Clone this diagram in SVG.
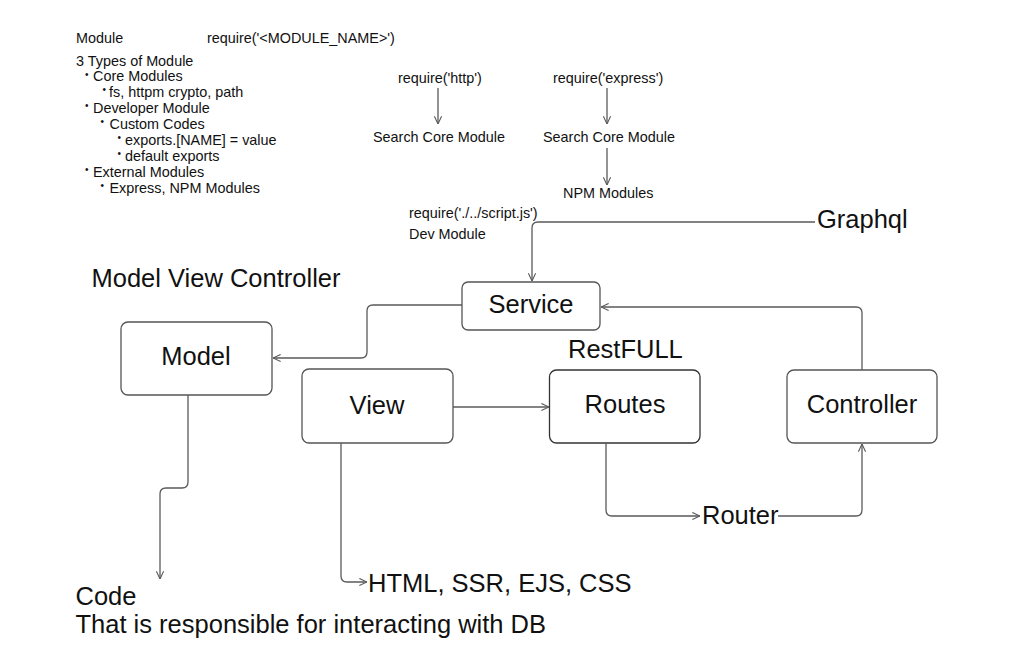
<svg xmlns="http://www.w3.org/2000/svg" width="1021" height="666" viewBox="0 0 1021 666">
<style>
  text { font-family: "Liberation Sans", Arial, Helvetica, sans-serif; fill: #111; }
  .s { font-size: 14.4px; }
  .b { font-size: 10px; }
  .l { font-size: 25.5px; }
  .c { text-anchor: middle; }
  .box { fill: #fff; stroke: #555; stroke-width: 1.3; }
  .edge { fill: none; stroke: #5a5a5a; stroke-width: 1.3; marker-end: url(#arr); }
</style>
<defs>
  <marker id="arr" viewBox="0 0 10 10" refX="9.5" refY="5" markerWidth="9" markerHeight="9" markerUnits="userSpaceOnUse" orient="auto">
    <path d="M1,1 L9.5,5 L1,9" fill="none" stroke="#5a5a5a" stroke-width="1.2"/>
  </marker>
</defs>
<rect width="1021" height="666" fill="#fff"/>

<g id="notes">
  <text class="s" x="76" y="42.7">Module</text>
  <text class="s" x="207" y="42.7">require('&lt;MODULE_NAME&gt;')</text>
  <text class="s" x="76" y="65.5">3 Types of Module</text>
  <text class="b" x="85" y="77.5">•</text><text class="s" x="93" y="81.4">Core Modules</text>
  <text class="b" x="102.5" y="93.4">•</text><text class="s" x="109" y="97.3">fs, httpm crypto, path</text>
  <text class="b" x="85" y="109.3">•</text><text class="s" x="93" y="113.2">Developer Module</text>
  <text class="b" x="100.5" y="125.2">•</text><text class="s" x="109.5" y="129.1">Custom Codes</text>
  <text class="b" x="117.5" y="141.1">•</text><text class="s" x="125" y="145">exports.[NAME] = value</text>
  <text class="b" x="117.5" y="157">•</text><text class="s" x="125" y="160.9">default exports</text>
  <text class="b" x="85" y="172.9">•</text><text class="s" x="93" y="176.8">External Modules</text>
  <text class="b" x="100.5" y="188.8">•</text><text class="s" x="109.5" y="192.7">Express, NPM Modules</text>
</g>

<g id="require-http"><text class="s" x="398" y="83">require('http')</text></g>
<g id="search-core-1"><text class="s" x="373" y="141.5">Search Core Module</text></g>
<g id="require-express"><text class="s" x="553" y="83">require('express')</text></g>
<g id="search-core-2"><text class="s" x="543" y="141.5">Search Core Module</text></g>
<g id="npm-modules"><text class="s" x="563" y="198">NPM Modules</text></g>
<g id="dev-module">
  <text class="s" x="409" y="218">require('./../script.js')</text>
  <text class="s" x="409" y="239">Dev Module</text>
</g>
<g id="graphql"><text class="l" x="817" y="228">Graphql</text></g>
<g id="mvc-title"><text class="l" x="91.5" y="286.5">Model View Controller</text></g>
<g id="restfull"><text class="l" x="568" y="358">RestFULL</text></g>

<g id="service">
  <rect class="box" x="462" y="282" width="138" height="48" rx="6"/>
  <text class="l c" x="531" y="312.5">Service</text>
</g>
<g id="model">
  <rect class="box" x="121" y="322" width="151" height="73" rx="7"/>
  <text class="l c" x="196" y="365">Model</text>
</g>
<g id="view">
  <rect class="box" x="302" y="369" width="151" height="74" rx="7"/>
  <text class="l c" x="377" y="414">View</text>
</g>
<g id="routes">
  <rect class="box" x="549.5" y="370" width="150.5" height="73" rx="7" style="stroke:#333"/>
  <text class="l c" x="625" y="413">Routes</text>
</g>
<g id="controller">
  <rect class="box" x="787" y="370" width="150" height="73" rx="7"/>
  <text class="l c" x="862" y="413">Controller</text>
</g>
<g id="router"><text class="l" x="702" y="523.5">Router</text></g>
<g id="html"><text class="l" x="368" y="591.5">HTML, SSR, EJS, CSS</text></g>
<g id="code">
  <text class="l" x="75.5" y="605">Code</text>
  <text class="l" x="75.5" y="633">That is responsible for interacting with DB</text>
</g>

<g id="connectors">
  <path class="edge" d="M438,88 L438,124"/>
  <path class="edge" d="M607,88 L607,124"/>
  <path class="edge" d="M607,148 L607,185"/>
  <path class="edge" d="M815,222 L538,222 Q532,222 532,228 L532,281"/>
  <path class="edge" d="M862,370 L862,313 Q862,307 856,307 L601,307"/>
  <path class="edge" d="M462,305 L373,305 Q367,305 367,311 L367,352 Q367,358 361,358 L273,358"/>
  <path class="edge" d="M453,407 L549,407"/>
  <path class="edge" d="M606,443 L606,510 Q606,516 612,516 L700,516"/>
  <path class="edge" d="M778,516 L856,516 Q862,516 862,510 L862,444"/>
  <path class="edge" d="M188,395 L188,482 Q188,488 182,488 L166,488 Q160,488 160,494 L160,579"/>
  <path class="edge" d="M341,443 L341,576 Q341,582 347,582 L367,582"/>
</g>
</svg>
